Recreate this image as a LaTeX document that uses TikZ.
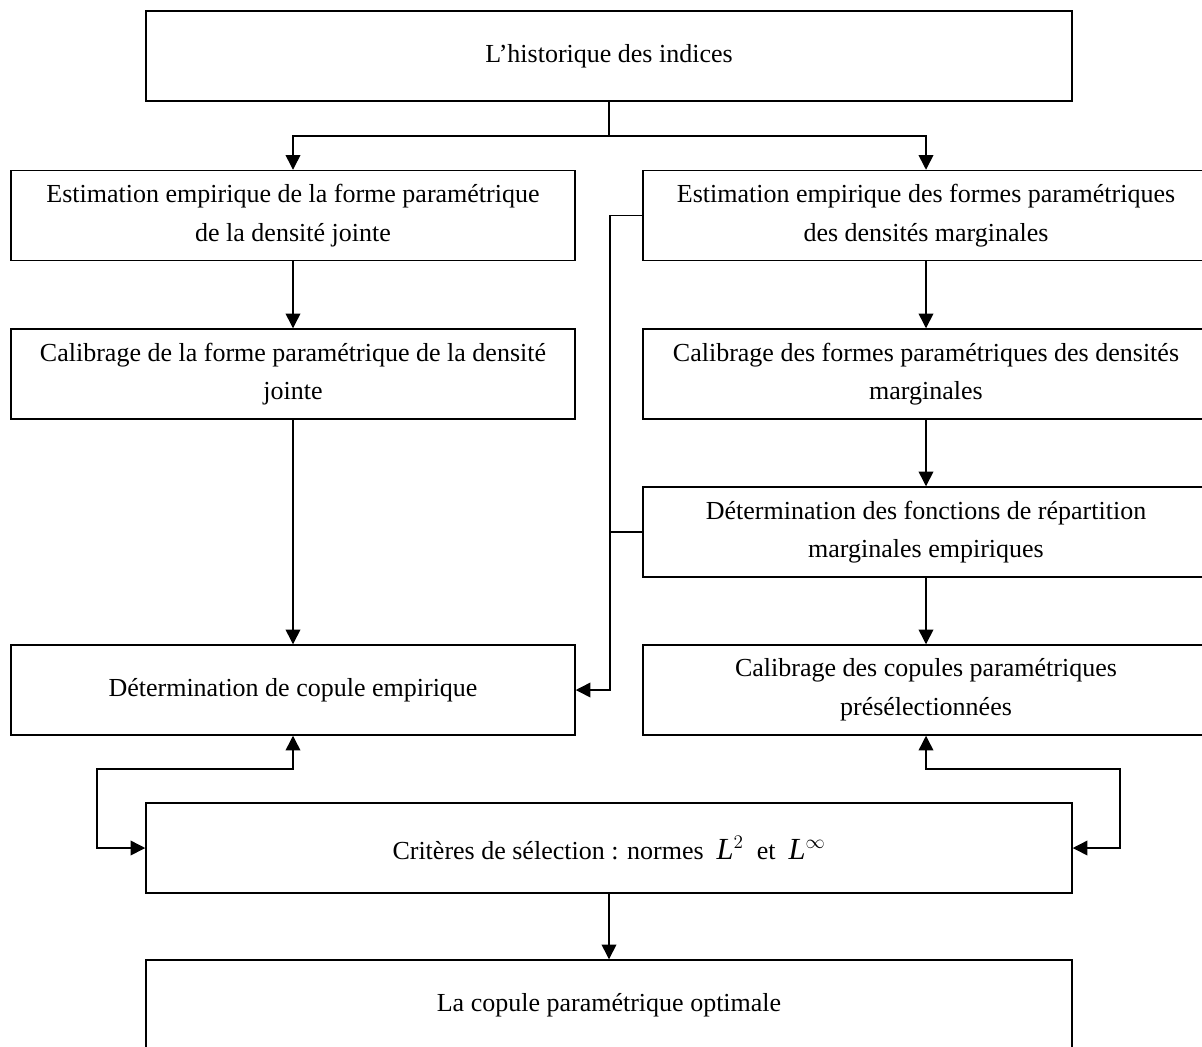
\documentclass[tikz,border=0pt]{standalone}
\usepackage{fontspec}
\setmainfont{Liberation Serif}
\usetikzlibrary{arrows.meta}
\begin{document}
\begin{tikzpicture}[x=0.75pt,y=-0.75pt,
  box/.style={draw,line width=1.1pt,rectangle,align=center,inner sep=0pt,
    font=\fontsize{19.5}{29}\selectfont},
  wide/.style={box,minimum width=926*0.75pt,minimum height=90*0.75pt},
  lbox/.style={box,minimum width=564*0.75pt,minimum height=90*0.75pt},
  rbox/.style={box,minimum width=566*0.75pt,minimum height=90*0.75pt},
  conn/.style={line width=1.1pt},
  arr/.style={conn,-{Triangle[length=11pt,width=11pt]}},
  dblarr/.style={conn,{Triangle[length=11pt,width=11pt]}-{Triangle[length=11pt,width=11pt]}}]
\useasboundingbox (0,0) rectangle (1202,1046);
% boxes
\node[wide] (top) at (609,56) {L’historique des indices};
\node[lbox] (L1) at (293,215.5) {Estimation empirique de la forme paramétrique\\de la densité jointe};
\node[lbox] (L2) at (293,374) {Calibrage de la forme paramétrique de la densité\\jointe};
\node[lbox] (L4) at (293,690) {Détermination de copule empirique};
\node[rbox] (R1) at (926,215.5) {Estimation empirique des formes paramétriques\\des densités marginales};
\node[rbox] (R2) at (926,374) {Calibrage des formes paramétriques des densités\\marginales};
\node[rbox] (R3) at (926,532) {Détermination des fonctions de répartition\\marginales empiriques};
\node[rbox] (R4) at (926,690) {Calibrage des copules paramétriques\\présélectionnées};
\node[wide] (crit) at (609,848) {Critères de sélection : normes \ {\fontsize{23}{29}\selectfont\itshape L}$^{2}$ \ et \ {\fontsize{23}{29}\selectfont\itshape L}$^{\infty}$};
\node[wide] (final) at (609,1005) {La copule paramétrique optimale};
% helper coordinates
\coordinate (sp) at (609,136);
\coordinate (mx) at (610,0);
\coordinate (ll) at (97,769);
\coordinate (rl) at (1120,769);
% connectors
\draw[conn] (top.south) -- (sp);
\draw[arr] (sp) -| (L1.north);
\draw[arr] (sp) -| (R1.north);
\draw[arr] (L1) -- (L2);
\draw[arr] (L2) -- (L4);
\draw[arr] (R1) -- (R2);
\draw[arr] (R2) -- (R3);
\draw[arr] (R3) -- (R4);
\draw[arr] (R1.west) -- (R1.west -| mx) |- (L4.east);
\draw[conn] (R3.west) -- (R3.west -| mx);
\draw[dblarr] (L4.south) |- (ll) |- (crit.west);
\draw[dblarr] (R4.south) |- (rl) |- (crit.east);
\draw[arr] (crit) -- (final);
\end{tikzpicture}
\end{document}
